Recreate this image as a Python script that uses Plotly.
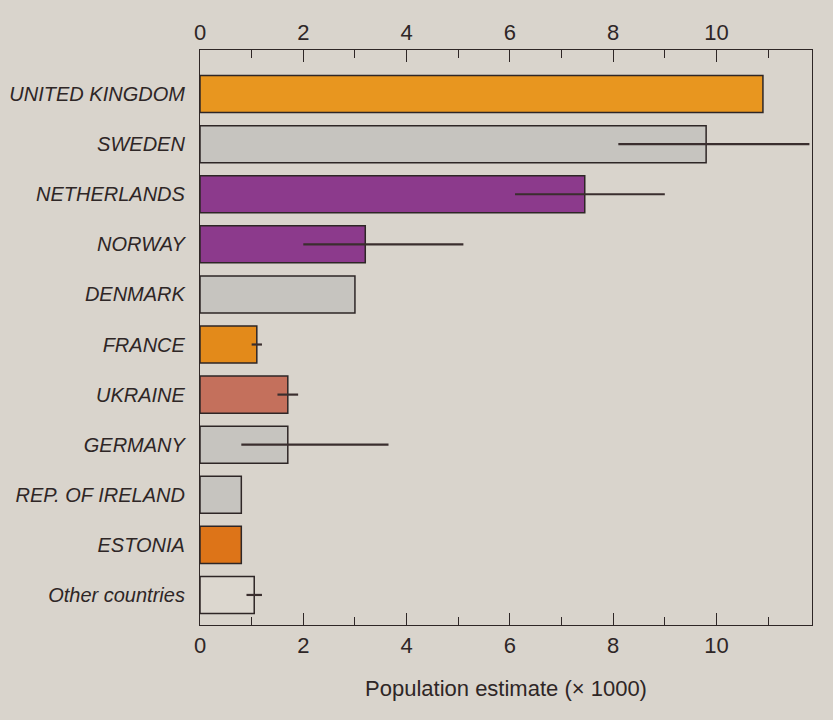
import plotly.graph_objects as go

countries = ["UNITED KINGDOM", "SWEDEN", "NETHERLANDS", "NORWAY", "DENMARK", "FRANCE",
             "UKRAINE", "GERMANY", "REP. OF IRELAND", "ESTONIA", "Other countries"]
estimates = [10.9, 9.8, 7.45, 3.2, 3.0, 1.1, 1.7, 1.7, 0.8, 0.8, 1.05]
err_plus = [0, 2.0, 1.55, 1.9, 0, 0.1, 0.2, 1.95, 0, 0, 0.15]
err_minus = [0, 1.7, 1.35, 1.2, 0, 0.1, 0.2, 0.9, 0, 0, 0.15]
colors = ["#E8961F", "#C6C4BF", "#8C3A8C", "#8C3A8C", "#C6C4BF", "#E38A1A",
          "#C4705C", "#C6C4BF", "#C6C4BF", "#DD7418", "#DCD7CF"]
tick_vals = [0, 2, 4, 6, 8, 10]

ink = "#2E2626"
bg = "#D9D4CC"
font_fam = "Liberation Sans Narrow, Arial Narrow, Liberation Sans, sans-serif"

fig = go.Figure()
fig.add_trace(go.Bar(
    x=estimates, y=countries, orientation="h", width=0.74,
    marker=dict(color=colors, line=dict(color=ink, width=1.5)),
    error_x=dict(type="data", symmetric=False, array=err_plus, arrayminus=err_minus,
                 color="#3A2E2E", thickness=2.2, width=0),
    showlegend=False, hoverinfo="x+y",
))
fig.add_trace(go.Scatter(x=[0], y=[countries[0]], xaxis="x2", mode="markers",
                         marker=dict(opacity=0), showlegend=False, hoverinfo="skip"))

axis_common = dict(
    range=[0, 11.85], tickvals=tick_vals, ticks="inside", ticklen=12, tickwidth=1.2,
    tickcolor=ink, showgrid=False, zeroline=False, showline=True, linecolor=ink,
    linewidth=1.2, tickfont=dict(family=font_fam, size=22, color=ink), automargin=False,
    minor=dict(tickvals=[1, 3, 5, 7, 9, 11], ticks="inside", ticklen=8, tickcolor=ink, tickwidth=1.2),
)

fig.update_layout(
    width=833, height=720,
    margin=dict(l=200, r=21, t=50, b=95),
    paper_bgcolor=bg, plot_bgcolor=bg,
    xaxis=dict(**axis_common, side="bottom", mirror=False,
               title=dict(text="Population estimate (\u00d7 1000)",
                          font=dict(family=font_fam, size=22, color=ink), standoff=24)),
    xaxis2=dict(**axis_common, side="top", overlaying="x", anchor="y", matches="x"),
    yaxis=dict(categoryorder="array", categoryarray=countries, range=[10.6, -0.88],
               showline=True, mirror=True, linecolor=ink, linewidth=1.2, ticks="",
               showgrid=False, zeroline=False, ticklabelstandoff=10, automargin=False,
               tickfont=dict(family=font_fam, size=20, color=ink, style="italic")),
)

fig.write_html("out.html", config={"displayModeBar": False}, post_script=(
    "document.body.style.margin='0px';"
    "document.body.style.background='" + bg + "';"
    "document.body.style.overflow='hidden';"
))
